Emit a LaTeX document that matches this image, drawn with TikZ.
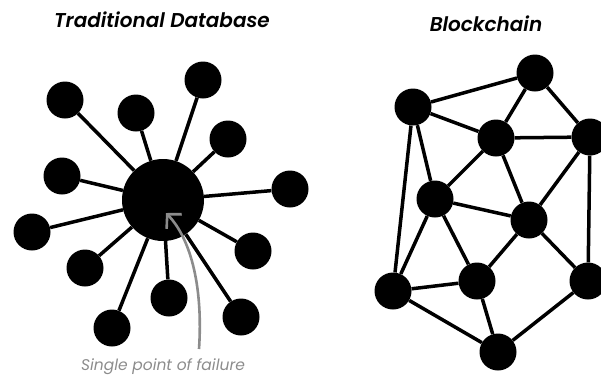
\documentclass[tikz,border=0pt]{standalone}
\usepackage{fontspec}
\setmainfont{Poppins}
\newfontfamily\headfont{Poppins SemiBold Italic}
\usetikzlibrary{arrows.meta,positioning}

\definecolor{failgray}{HTML}{8C8C8C}

\begin{document}
\begin{tikzpicture}[x=1pt,y=-1pt,
    dot/.style={circle,fill=black,inner sep=0pt,minimum size=37pt},
    hub/.style={circle,fill=black,inner sep=0pt,minimum size=82pt},
    link/.style={black,line width=3.5pt},
    heading/.style={font=\fontsize{20}{24}\selectfont\headfont}]
\useasboundingbox (0,0) rectangle (601,376);

% centralised star
\node[heading] (tdtitle) at (162,20) {Traditional Database};
\node[hub] (hub) at (163,200) {};
\foreach \name/\x/\y in {s1/65/100, s2/136/113, s3/203/80, s4/228/139,
        s5/290/189, s6/62/176, s7/32/232, s8/253/251, s9/85/268,
        s10/169/298, s11/241/317, s12/112/328}
    {
    \node[dot] (\name) at (\x,\y) {};
    \draw[link] (hub) -- (\name);
    }

% failure arrow
\node[text=failgray,font=\fontsize{15.5}{18}\selectfont\itshape] (fail) at (163,367) {Single point of failure};
\coordinate (tip) at (166,213);
\draw[failgray,line width=2.6pt,-{Straight Barb[length=10pt,width=21pt]}]
    (199,349) .. controls (203,290) and (192,240) .. (tip);

% mesh
\node[heading] (bctitle) at (486,24) {Blockchain};
\foreach \name/\x/\y in {a/413/107, b/535/73, c/496/138, d/590/137,
        e/435/199, f/529/220, g/393/291, h/477/281, i/588/281, j/498/352}
    {
    \node[dot] (\name) at (\x,\y) {};
    }
\foreach \u/\v in {a/b, a/c, a/e, a/g, b/c, b/d, c/d, c/e, c/f, d/f,
        d/i, e/f, e/g, e/h, f/h, f/i, g/h, g/j, h/j, i/j}
    {
    \draw[link] (\u) -- (\v);
    }

\end{tikzpicture}
\end{document}
